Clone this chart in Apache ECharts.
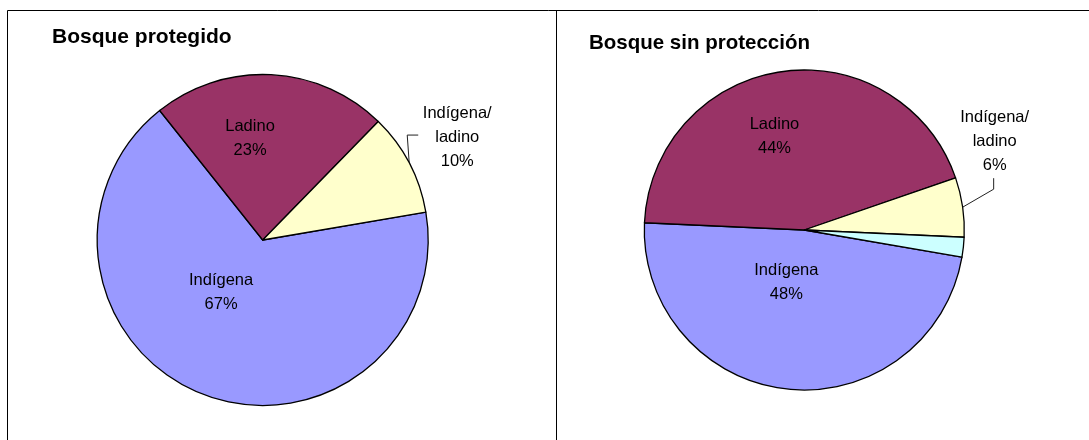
<!DOCTYPE html>
<html>
<head>
<meta charset="utf-8">
<script src="https://cdn.jsdelivr.net/npm/echarts@6/dist/echarts.min.js"></script>
<style>
html,body{margin:0;padding:0;background:#fff;}
#chart{width:1089px;height:440px;}
</style>
</head>
<body>
<div id="chart"></div>
<script>
// ---- data ----
const leftTitle = 'Bosque protegido';
const rightTitle = 'Bosque sin protección';
const leftCategories = ['Indígena', 'Ladino', 'Indígena/ladino'];
const leftValues = [67, 23, 10];
const rightCategories = ['Indígena', 'Ladino', 'Indígena/ladino', 'Otro'];
const rightValues = [48, 44, 6, 2];
const sliceColors = {
  'Indígena': '#9999FF',
  'Ladino': '#993366',
  'Indígena/ladino': '#FFFFCC',
  'Otro': '#CCFFFF'
};

const FONT = '"Liberation Sans", Arial, sans-serif';

function buildData(cats, vals, outsideName, hiddenName) {
  return cats.map((c, i) => {
    const item = { name: c, value: vals[i], itemStyle: { color: sliceColors[c] } };
    if (c === outsideName) item.label = { position: 'outside' };
    if (c === hiddenName) { item.label = { show: false }; item.labelLine = { show: false }; }
    return item;
  });
}

function labelFmt(p) {
  return p.name.replace('/', '/\n') + '\n' + p.value + '%';
}

const baseSeries = {
  type: 'pie',
  clockwise: true,
  animation: false,
  silent: true,
  itemStyle: { borderColor: '#000', borderWidth: 1.3 },
  label: {
    show: true, position: 'inside', formatter: labelFmt,
    color: '#000', fontFamily: FONT, fontSize: 16.5, lineHeight: 24, align: 'center'
  },
  labelLine: { show: true, length: 10, length2: 6, lineStyle: { color: '#222', width: 1 } },
  emphasis: { disabled: true }
};

const chart = echarts.init(document.getElementById('chart'), null, { renderer: 'canvas' });
chart.setOption({
  backgroundColor: '#fff',
  animation: false,
  title: [
    { text: leftTitle, left: 47, top: 22, textStyle: { fontFamily: FONT, fontSize: 21, fontWeight: 'bold', color: '#000' } },
    { text: rightTitle, left: 584, top: 28, textStyle: { fontFamily: FONT, fontSize: 20.5, fontWeight: 'bold', color: '#000' } }
  ],
  graphic: [
    { type: 'line', shape: { x1: 7.5, y1: 10.5, x2: 1089, y2: 10.5 }, style: { stroke: '#000', lineWidth: 1 } },
    { type: 'line', shape: { x1: 7.5, y1: 10.5, x2: 7.5, y2: 440 }, style: { stroke: '#000', lineWidth: 1 } },
    { type: 'line', shape: { x1: 556.5, y1: 10.5, x2: 556.5, y2: 440 }, style: { stroke: '#000', lineWidth: 1 } }
  ],
  series: [
    Object.assign({}, baseSeries, {
      name: leftTitle,
      center: [262.7, 240],
      radius: 165.5,
      startAngle: 9.7,
      data: buildData(leftCategories, leftValues, 'Indígena/ladino', null),
      labelLayout: function (p) {
        if (p.dataIndex === 0) return { dx: -11, dy: -28 };
        if (p.dataIndex === 1) return { dx: -17, dy: -16 };
        if (p.dataIndex === 2 && p.labelLinePoints) {
          const e = p.labelLinePoints[0];
          return {
            x: e[0] + 48, y: e[1] - 26, align: 'center', verticalAlign: 'middle',
            labelLinePoints: [[e[0], e[1]], [e[0] - 2, e[1] - 28], [e[0] + 9, e[1] - 28]]
          };
        }
        return {};
      }
    }),
    Object.assign({}, baseSeries, {
      name: rightTitle,
      center: [804.3, 230],
      radius: 160,
      startAngle: -9.8,
      data: buildData(rightCategories, rightValues, 'Indígena/ladino', 'Otro'),
      labelLayout: function (p) {
        if (p.dataIndex === 0) return { dx: -9, dy: -30 };
        if (p.dataIndex === 1) return { dx: -18, dy: -11 };
        if (p.dataIndex === 2 && p.labelLinePoints) {
          const e = p.labelLinePoints[0];
          return {
            x: e[0] + 32, y: e[1] - 66, align: 'center', verticalAlign: 'middle',
            labelLinePoints: [[e[0], e[1]], [e[0] + 31, e[1] - 18], [e[0] + 31, e[1] - 29]]
          };
        }
        return {};
      }
    })
  ]
});
</script>
</body>
</html>
